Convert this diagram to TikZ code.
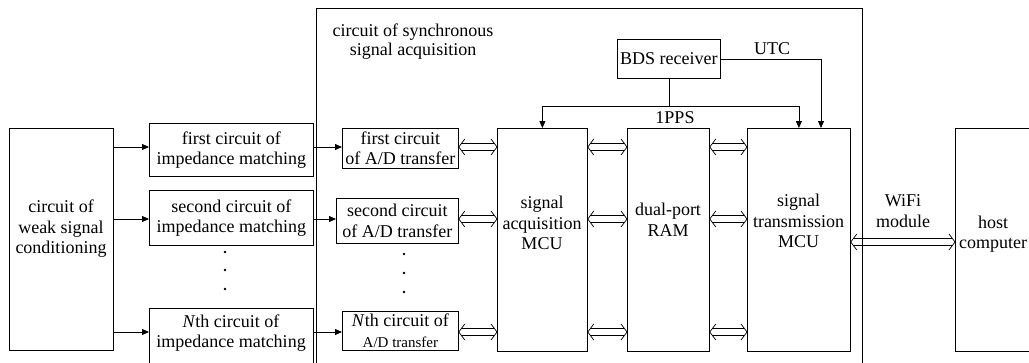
\documentclass[tikz,border=0pt]{standalone}
\usepackage{fontspec}
\setmainfont{Liberation Serif}
\usetikzlibrary{arrows.meta,calc}
\begin{document}
\begin{tikzpicture}[x=1pt,y=-1pt,
  box/.style={draw=black, line width=0.8pt, rectangle, inner sep=0pt, anchor=north west, align=center, font=\fontsize{18}{20.5}\selectfont},
  txt/.style={align=center, inner sep=0pt, font=\fontsize{18}{20.5}\selectfont},
  arr/.style={draw, line width=0.8pt, -{Triangle[length=7pt,width=6pt]}},
  plain/.style={draw, line width=0.8pt},
  dbl/.style={draw, line width=0.7pt, to path={let \p1=(\tikztostart), \p2=(\tikztotarget) in
    (\x1+3pt,\y1+3.5pt) -- (\x2-3pt,\y2+3.5pt)
    (\x1+3pt,\y1-3.5pt) -- (\x2-3pt,\y2-3.5pt)
    (\x1+6pt,\y1+8pt) .. controls (\x1+2.5pt,\y1+4pt) .. (\x1,\y1) .. controls (\x1+2.5pt,\y1-4pt) .. (\x1+6pt,\y1-8pt)
    (\x2-6pt,\y2+8pt) .. controls (\x2-2.5pt,\y2+4pt) .. (\x2,\y2) .. controls (\x2-2.5pt,\y2-4pt) .. (\x2-6pt,\y2-8pt)}},
  dotc/.style={circle, fill=black, inner sep=0pt, minimum size=2.6pt}]
\useasboundingbox (0,0) rectangle (1029,362);
% containers and boxes
\node[box, minimum width=546pt, minimum height=362pt] (sync) at (316,8) {};
\node[box, minimum width=104pt, minimum height=222pt] (weak) at (9,128) {};
\node[box, minimum width=164pt, minimum height=53pt] (imp1) at (149,123) {first circuit of\\impedance matching};
\node[box, minimum width=164pt, minimum height=55pt] (imp2) at (149,190) {second circuit of\\impedance matching};
\node[box, minimum width=164pt, minimum height=58pt] (impN) at (149,308) {};
\node[txt] (impNt) at (231,333) {\textit{N}th circuit of\\impedance matching};
\node[box, minimum width=116pt, minimum height=40pt] (ad1) at (342,128) {first circuit\\of A/D transfer};
\node[box, minimum width=122pt, minimum height=45pt] (ad2) at (336,198) {second circuit\\of A/D transfer};
\node[box, minimum width=116pt, minimum height=39pt] (adN) at (342,311) {\textit{N}th circuit of\\{\fontsize{15}{16}\selectfont A/D transfer}};
\node[box, minimum width=90pt, minimum height=223pt] (acq) at (497,128) {};
\node[box, minimum width=82pt, minimum height=223pt] (ram) at (627,128) {};
\node[box, minimum width=103pt, minimum height=223pt] (trans) at (747,128) {};
\node[box, minimum width=76pt, minimum height=223pt] (host) at (955,128) {};
\node[box, minimum width=103pt, minimum height=39pt] (bds) at (617,39) {BDS receiver};
% texts
\node[txt] (weakt) at (61,229) {circuit of\\weak signal\\conditioning};
\node[txt] (acqt) at (542,223) {signal\\acquisition\\MCU};
\node[txt] (ramt) at (668,220) {dual-port\\RAM};
\node[txt] (transt) at (798.5,221) {signal\\transmission\\MCU};
\node[txt] (hostt) at (993,234) {host\\computer};
\node[txt] (wifit) at (903,211) {WiFi\\module};
\node[txt] (utct) at (772,49) {UTC};
\node[txt] (ppst) at (675,118) {1PPS};
\node[txt, font=\fontsize{18}{19}\selectfont] (synct) at (413,42) {circuit of synchronous\\signal acquisition};
% dots
\foreach \yy [count=\i] in {252,270,289} {\node[dotc] (di\i) at (225,\yy) {};}
\foreach \yy [count=\i] in {254,273,292} {\node[dotc] (da\i) at (404,\yy) {};}
% rows
\coordinate (r1) at (0,147);
\coordinate (r2) at (0,219);
\coordinate (r3) at (0,332);
\coordinate (rw) at (0,242);
\coordinate (utcx) at (821,0);
% arrows
\draw[arr] (weak.east |- r1) -- (imp1.west |- r1);
\draw[arr] (weak.east |- r2) -- (imp2.west |- r2);
\draw[arr] (weak.east |- r3) -- (impN.west |- r3);
\draw[arr] (imp1.east |- r1) -- (ad1.west |- r1);
\draw[arr] (imp2.east |- r2) -- (ad2.west |- r2);
\draw[arr] (impN.east |- r3) -- (adN.west |- r3);
\draw[dbl] (ad1.east |- r1) to (acq.west |- r1);
\draw[dbl] (ad2.east |- r2) to (acq.west |- r2);
\draw[dbl] (adN.east |- r3) to (acq.west |- r3);
\foreach \r in {r1,r2,r3} {
  \draw[dbl] (acq.east |- \r) to (ram.west |- \r);
  \draw[dbl] (ram.east |- \r) to (trans.west |- \r);
}
\draw[dbl] (trans.east |- rw) to (host.west |- rw);
\draw[plain] (bds.south) -- ++(0,28) coordinate (pps);
\draw[arr] (pps) -| (acq.north);
\draw[arr] (pps) -| (trans.north);
\draw[arr] (bds.east) -| (utcx |- trans.north);
\end{tikzpicture}
\end{document}
